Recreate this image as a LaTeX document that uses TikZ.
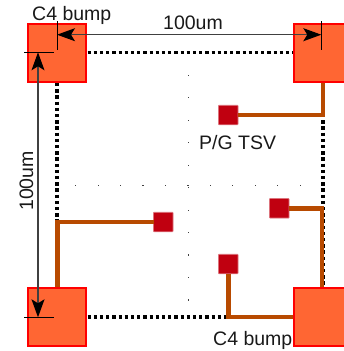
\documentclass[tikz,border=0pt]{standalone}
\usepackage{fontspec}
\setmainfont{Liberation Sans}
\usetikzlibrary{arrows.meta,calc}
\definecolor{bumpfill}{HTML}{FF6633}
\definecolor{tsvfill}{HTML}{C00010}
\definecolor{wirecol}{HTML}{B84A00}
\definecolor{dimcol}{HTML}{404040}
\tikzset{
  bump/.style={draw=red,line width=2pt,fill=bumpfill,minimum size=58pt,inner sep=0pt,outer sep=0pt},
  tsv/.style={draw=tsvfill!55!white,line width=0.7pt,fill=tsvfill,minimum size=19.5pt,inner sep=0pt,outer sep=0pt,rounded corners=0.6pt},
  wire/.style={draw=wirecol,line width=4.6pt,line join=miter,shorten >=1pt},
  grid/.style={draw=black,line width=3.3pt,dash pattern=on 3.3pt off 2.9pt,shorten >=1.5pt,shorten <=1.5pt},
  dimline/.style={draw=dimcol,line width=1.2pt,{Stealth[length=18pt,width=13pt,inset=4pt,black]}-{Stealth[length=18pt,width=13pt,inset=4pt,black]}},
  tick/.style={draw=black,line width=1pt},
  lab/.style={font=\fontsize{19.5}{19.5}\selectfont,text=black!90,inner sep=0pt,anchor=base west},
  pip/.style={fill=black!75,inner sep=0pt,minimum size=1.2pt,draw=none}
}
\begin{document}
\begin{tikzpicture}[x=1pt,y=-1pt]
\useasboundingbox (0,0) rectangle (344,351);
\clip (0,0) rectangle (344,351);
% centre pips
\foreach \i in {0,...,10}{
  \node[pip] (pv\i) at (188.7,75.4+\i*22.45) {};
  \node[pip] (ph\i) at (75.7+\i*22.45,185.7) {};
}
% C4 bumps
\node[bump] (tl) at (57,52.5) {};
\node[bump] (tr) at (323,52.5) {};
\node[bump] (bl) at (57,317) {};
\node[bump] (br) at (323,317) {};
% dotted outline
\draw[grid] (tl.east) -- (tr.west);
\draw[grid] (tl.south) -- (bl.north);
\draw[grid] (tr.south) -- (br.north);
\draw[grid] (bl.east) -- (br.west);
% TSVs
\node[tsv] (t1) at (228.3,115) {};
\node[tsv] (t2) at (163.3,222) {};
\node[tsv] (t3) at (279.3,208.3) {};
\node[tsv] (t4) at (228.3,264) {};
% wires
\draw[wire] (t1.east) -| (tr.south);
\draw[wire] (t2.west) -| ($(bl.north)+(0.5,0)$);
\draw[wire] (t3.east) -| ($(br.north)+(-1,0)$);
\draw[wire] (t4.south) |- (br.west);
% dimension ticks
\coordinate (hl) at (57,34.7);
\coordinate (hr) at (321.3,34.7);
\coordinate (vt) at (38,52.3);
\coordinate (vb) at (38,317.3);
\draw[tick] ($(hl)+(0,-13.5)$) -- ($(hl)+(0,15.5)$);
\draw[tick] ($(hr)+(0,-13.5)$) -- ($(hr)+(0,15.5)$);
\draw[tick] ($(vt)+(-14,0)$) -- ($(vt)+(16,0)$);
\draw[tick] ($(vb)+(-14,0)$) -- ($(vb)+(16,0)$);
\draw[dimline] (hl) -- (hr);
\draw[dimline] (vt) -- (vb);
% labels
\node[lab] (lb1) at (32,20) {C4 bump};
\node[lab] (lb2) at (163,29.3) {100um};
\node[lab,rotate=90] (lb3) at (33,211) {100um};
\node[lab] (lb4) at (199,149.5) {P/G TSV};
\node[lab] (lb5) at (213,345) {C4 bump};
\end{tikzpicture}
\end{document}
